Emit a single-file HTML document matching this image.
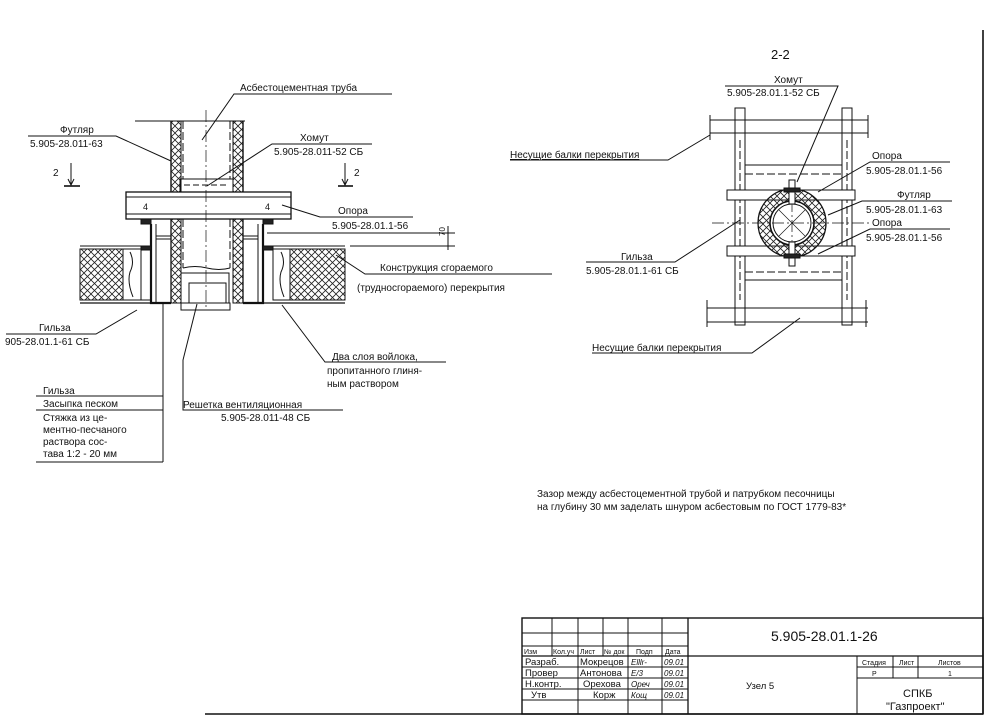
<!DOCTYPE html>
<html><head><meta charset="utf-8"><style>
html,body{margin:0;padding:0;background:#fff;}
svg{display:block;}
text{font-family:"Liberation Sans","DejaVu Sans",sans-serif;fill:#111;}
</style></head><body>
<svg width="997" height="724" viewBox="0 0 997 724" xmlns="http://www.w3.org/2000/svg">
<defs>
<pattern id="xh" width="7" height="7" patternUnits="userSpaceOnUse">
<path d="M0 0L7 7M7 0L0 7" stroke="#222" stroke-width="0.8"/>
</pattern>
</defs>
<g stroke="#111" fill="none" stroke-width="1">
<line x1="983" y1="30" x2="983" y2="714" stroke-width="1.6"/>
<line x1="205" y1="714" x2="983" y2="714" stroke-width="1.4"/>

<line x1="135" y1="121" x2="245" y2="121"/>
<rect x="171" y="121" width="10" height="71" fill="url(#xh)"/>
<rect x="233" y="121" width="10" height="71" fill="url(#xh)"/>
<line x1="171" y1="121" x2="171" y2="192" stroke-width="1.4"/>
<line x1="243" y1="121" x2="243" y2="192" stroke-width="1.4"/>
<line x1="183" y1="121" x2="183" y2="179" stroke-dasharray="8,3"/>
<line x1="230" y1="121" x2="230" y2="179" stroke-dasharray="8,3"/>
<line x1="206" y1="110" x2="206" y2="310" stroke-dasharray="12,3,2,3" stroke-width="0.7"/>
<rect x="180" y="179" width="53" height="13"/>
<line x1="184" y1="185" x2="229" y2="185" stroke-dasharray="6,3"/>
<rect x="126" y="192" width="165" height="27" stroke-width="1.3"/>
<line x1="126" y1="197" x2="291" y2="197"/>
<line x1="126" y1="214" x2="291" y2="214"/>
<rect x="141" y="219" width="10" height="5" fill="#222"/>
<rect x="263" y="219" width="10" height="5" fill="#222"/>
<rect x="171" y="219" width="10" height="84" fill="url(#xh)"/>
<rect x="233" y="219" width="10" height="84" fill="url(#xh)"/>
<line x1="171" y1="219" x2="171" y2="303" stroke-width="1.3"/>
<line x1="181" y1="219" x2="181" y2="303"/>
<line x1="233" y1="219" x2="233" y2="303"/>
<line x1="243" y1="219" x2="243" y2="303" stroke-width="1.3"/>
<line x1="183" y1="219" x2="183" y2="268" stroke-dasharray="8,3"/>
<line x1="230" y1="219" x2="230" y2="268" stroke-dasharray="8,3"/>
<path d="M183 268 q12 -3 24 0 t23 0"/>
<rect x="181" y="273" width="48" height="30"/>
<rect x="189" y="283" width="37" height="20"/>
<rect x="181" y="303" width="49" height="7"/>
<path d="M151 224 V303 H171" stroke-width="2.2"/>
<path d="M263 224 V303 H243" stroke-width="2.2"/>
<line x1="156" y1="236" x2="171" y2="236"/><line x1="156" y1="239" x2="171" y2="239"/>
<line x1="243" y1="236" x2="258" y2="236"/><line x1="243" y1="239" x2="258" y2="239"/>
<line x1="156" y1="224" x2="156" y2="303"/>
<line x1="258" y1="224" x2="258" y2="303"/>
<line x1="80" y1="246" x2="151" y2="246"/>
<line x1="263" y1="246" x2="345" y2="246"/>
<line x1="80" y1="303" x2="151" y2="303" stroke-width="1.3"/>
<line x1="263" y1="303" x2="345" y2="303" stroke-width="1.3"/>
<rect x="80" y="249" width="43" height="51" fill="url(#xh)"/>
<rect x="123" y="249" width="18" height="51"/>
<path d="M130 252 q5 10 0 20 q-3 10 3 25"/>
<rect x="141" y="249" width="10" height="51"/>
<rect x="141" y="246" width="10" height="4" fill="#222"/>
<rect x="290" y="249" width="55" height="51" fill="url(#xh)"/>
<rect x="273" y="249" width="17" height="51"/>
<path d="M281 252 q5 10 0 20 q-3 10 3 25"/>
<rect x="263" y="246" width="10" height="4" fill="#222"/>
<line x1="71" y1="163" x2="71" y2="185"/><path d="M68 179 L71 185 L74 179"/>
<line x1="64" y1="186" x2="80" y2="186" stroke-width="1.6"/>
<line x1="345" y1="163" x2="345" y2="185"/><path d="M342 179 L345 185 L348 179"/>
<line x1="338" y1="186" x2="353" y2="186" stroke-width="1.6"/>
<line x1="267" y1="233" x2="455" y2="233"/>
<line x1="350" y1="246" x2="455" y2="246"/>
<line x1="448" y1="226" x2="448" y2="250"/>
<polyline points="392,94 234,94 202,140"/>
<polyline points="28,136 116,136 171,161"/>
<polyline points="372,144 272,144 207,186"/>
<polyline points="413,217 320,217 282,205"/>
<polyline points="552,274 365,274 336,255"/>
<polyline points="6,334 96,334 137,310"/>
<polyline points="446,362 325,362 282,305"/>
<polyline points="343,410 183,410 183,360 197,304"/>
<line x1="36" y1="396" x2="163" y2="396"/>
<line x1="36" y1="410" x2="163" y2="410"/>
<line x1="36" y1="462" x2="163" y2="462"/>
<line x1="163" y1="303" x2="163" y2="462"/>

<rect x="735" y="108" width="10" height="217"/>
<rect x="842" y="108" width="10" height="217"/>
<line x1="710" y1="120" x2="868" y2="120"/><line x1="710" y1="133" x2="868" y2="133"/>
<line x1="710" y1="115" x2="710" y2="140"/><line x1="868" y1="115" x2="868" y2="138"/>
<line x1="707" y1="308" x2="868" y2="308"/><line x1="707" y1="322" x2="868" y2="322"/>
<line x1="707" y1="300" x2="707" y2="327"/><line x1="866" y1="300" x2="866" y2="327"/>
<line x1="745" y1="165" x2="842" y2="165"/><line x1="745" y1="174" x2="842" y2="174" stroke-dasharray="8,3"/>
<line x1="745" y1="272" x2="842" y2="272" stroke-dasharray="8,3"/><line x1="745" y1="280" x2="842" y2="280"/>
<line x1="740" y1="140" x2="740" y2="300" stroke-dasharray="8,3"/>
<line x1="847" y1="140" x2="847" y2="300" stroke-dasharray="8,3"/>
<rect x="727" y="190" width="128" height="10" fill="#fff"/>
<rect x="727" y="246" width="128" height="10" fill="#fff"/>
<circle cx="792" cy="223" r="34" fill="url(#xh)" stroke-width="1.3"/>
<circle cx="792" cy="223" r="22" fill="#fff" stroke-width="1.5"/>
<circle cx="792" cy="223" r="19"/>
<line x1="712" y1="223" x2="872" y2="223" stroke-dasharray="12,3,2,3" stroke-width="0.7"/>
<line x1="792" y1="180" x2="792" y2="266" stroke-dasharray="12,3,2,3" stroke-width="0.7"/>
<line x1="779" y1="210" x2="805" y2="236" stroke-width="0.6"/><line x1="805" y1="210" x2="779" y2="236" stroke-width="0.6"/>
<rect x="789" y="180" width="6" height="24" fill="#fff"/>
<rect x="789" y="242" width="6" height="24" fill="#fff"/>
<rect x="784" y="188" width="16" height="4" fill="#222"/>
<rect x="784" y="254" width="16" height="4" fill="#222"/>
<polyline points="725,86 838,86 797,182"/>
<polyline points="510,160 668,160 710,135"/>
<polyline points="950,162 870,162 818,192"/>
<polyline points="952,201 862,201 828,215"/>
<polyline points="950,229 870,229 818,254"/>
<polyline points="586,262 675,262 740,220"/>
<polyline points="592,353 752,353 800,318"/>

<rect x="522" y="618" width="461" height="96" stroke-width="1.4"/>
<line x1="688" y1="618" x2="688" y2="714" stroke-width="1.3"/>
<line x1="522" y1="633" x2="688" y2="633"/>
<line x1="522" y1="646" x2="688" y2="646"/>
<line x1="522" y1="656" x2="983" y2="656" stroke-width="1.3"/>
<line x1="522" y1="667" x2="688" y2="667"/>
<line x1="522" y1="678" x2="688" y2="678"/>
<line x1="522" y1="689" x2="688" y2="689"/>
<line x1="522" y1="700" x2="688" y2="700"/>
<line x1="552" y1="618" x2="552" y2="656"/>
<line x1="578" y1="618" x2="578" y2="714"/>
<line x1="603" y1="618" x2="603" y2="656"/>
<line x1="628" y1="618" x2="628" y2="714"/>
<line x1="662" y1="618" x2="662" y2="714"/>
<line x1="857" y1="656" x2="857" y2="714"/>
<line x1="857" y1="667" x2="983" y2="667"/>
<line x1="857" y1="678" x2="983" y2="678"/>
<line x1="893" y1="656" x2="893" y2="678"/>
<line x1="918" y1="656" x2="918" y2="678"/>
</g>

<g font-size="10">
<text x="240" y="91">Асбестоцементная труба</text>
<text x="60" y="133">Футляр</text>
<text x="30" y="147">5.905-28.011-63</text>
<text x="300" y="141">Хомут</text>
<text x="274" y="155">5.905-28.011-52 СБ</text>
<text x="53" y="176">2</text>
<text x="354" y="176">2</text>
<text x="143" y="210" font-size="9">4</text>
<text x="265" y="210" font-size="9">4</text>
<text x="338" y="214">Опора</text>
<text x="332" y="229">5.905-28.01.1-56</text>
<text x="0" y="0" font-size="8" transform="translate(445,236) rotate(-90)">70</text>
<text x="380" y="271">Конструкция сгораемого</text>
<text x="357" y="291">(трудносгораемого) перекрытия</text>
<text x="39" y="331">Гильза</text>
<text x="5" y="345">905-28.01.1-61 СБ</text>
<text x="332" y="360">Два слоя войлока,</text>
<text x="327" y="374">пропитанного глиня-</text>
<text x="327" y="387">ным раствором</text>
<text x="43" y="394">Гильза</text>
<text x="43" y="407">Засыпка песком</text>
<text x="43" y="421">Стяжка из це-</text>
<text x="43" y="433">ментно-песчаного</text>
<text x="43" y="445">раствора сос-</text>
<text x="43" y="457">тава 1:2 - 20 мм</text>
<text x="183" y="408">Решетка вентиляционная</text>
<text x="221" y="421">5.905-28.011-48 СБ</text>

<text x="771" y="59" font-size="13">2-2</text>
<text x="774" y="83">Хомут</text>
<text x="727" y="96">5.905-28.01.1-52 СБ</text>
<text x="510" y="158" text-decoration="underline">Несущие балки перекрытия</text>
<text x="872" y="159">Опора</text>
<text x="866" y="174">5.905-28.01.1-56</text>
<text x="897" y="198">Футляр</text>
<text x="866" y="213">5.905-28.01.1-63</text>
<text x="872" y="226">Опора</text>
<text x="866" y="241">5.905-28.01.1-56</text>
<text x="621" y="260">Гильза</text>
<text x="586" y="274">5.905-28.01.1-61 СБ</text>
<text x="592" y="351">Несущие балки перекрытия</text>

<text x="537" y="497">Зазор между асбестоцементной трубой и патрубком песочницы</text>
<text x="537" y="510">на глубину 30 мм заделать шнуром асбестовым по ГОСТ 1779-83*</text>
</g>

<g font-size="7">
<text x="524" y="654">Изм</text><text x="553" y="654">Кол.уч</text><text x="580" y="654">Лист</text><text x="604" y="654">№ док</text><text x="636" y="654">Подп</text><text x="665" y="654">Дата</text>
<text x="862" y="665">Стадия</text><text x="899" y="665">Лист</text><text x="938" y="665">Листов</text>
<text x="872" y="676">Р</text><text x="948" y="676">1</text>
</g>
<g font-size="9.5">
<text x="525" y="665">Разраб.</text><text x="580" y="665">Мокрецов</text>
<text x="525" y="676">Провер</text><text x="580" y="676">Антонова</text>
<text x="525" y="687">Н.контр.</text><text x="583" y="687">Орехова</text>
<text x="531" y="698">Утв</text><text x="593" y="698">Корж</text>
<text x="746" y="689">Узел 5</text>
</g>
<g font-size="8" font-style="italic" fill="#333">
<text x="664" y="665">09.01</text><text x="664" y="676">09.01</text><text x="664" y="687">09.01</text><text x="664" y="698">09.01</text>
<text x="631" y="665">Elllr-</text><text x="631" y="676">E/3</text><text x="631" y="687">Ореч</text><text x="631" y="698">Кощ</text>
</g>
<text x="771" y="641" font-size="14">5.905-28.01.1-26</text>
<text x="903" y="697" font-size="11">СПКБ</text>
<text x="886" y="710" font-size="11">"Газпроект"</text>
</svg>
</body></html>
